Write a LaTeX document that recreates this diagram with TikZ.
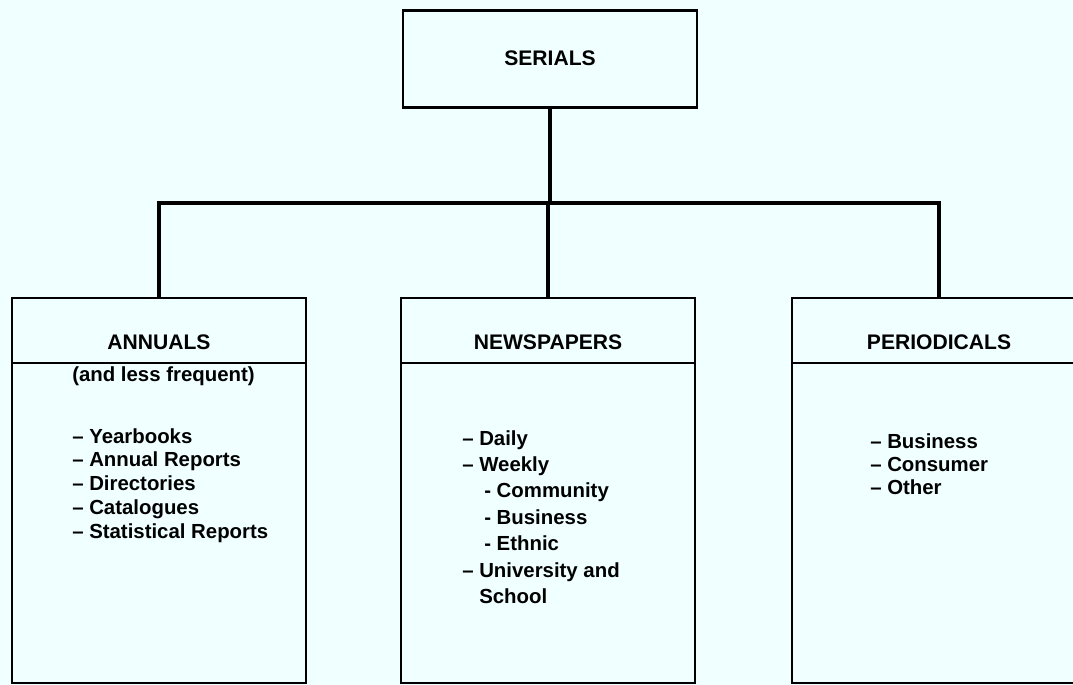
\documentclass[tikz,border=0pt]{standalone}
\usepackage{fontspec}
\setmainfont{Liberation Sans}
\usetikzlibrary{positioning}
\definecolor{paper}{RGB}{240,255,255}

\tikzset{
  head/.style={draw, line width=2.1pt, outer sep=0pt, minimum width=7.35cm, minimum height=1.625cm},
  body/.style={draw, line width=2.1pt, outer sep=0pt, minimum width=7.35cm, minimum height=8cm},
  title/.style={font=\fontsize{15}{18}\selectfont\bfseries},
  items/.style={font=\fontsize{14.5}{#1}\selectfont\bfseries, align=left, anchor=north west, inner sep=0pt},
  link/.style={line width=2.7pt}
}

\begin{document}
\begin{tikzpicture}
% background
\path[fill=paper, use as bounding box] (0,0) rectangle (26.825,17.125);
% top box
\node[head, title, minimum height=2.425cm] (serials) at (13.75,15.66) {SERIALS};
% boxes
\node[head] (annualsHead) at (3.975,8.8625) {};
\node[body, below=0pt of annualsHead] (annualsBody) {};
\node[head] (newsHead) at (13.7,8.8625) {};
\node[body, below=0pt of newsHead] (newsBody) {};
\node[head] (periodicalsHead) at (23.475,8.8625) {};
\node[body, below=0pt of periodicalsHead] (periodicalsBody) {};
% titles
\node[title] (annuals) at ([yshift=-0.29cm]annualsHead.center) {ANNUALS};
\node[title] (news) at ([yshift=-0.29cm]newsHead.center) {NEWSPAPERS};
\node[title] (periodicals) at ([yshift=-0.29cm]periodicalsHead.center) {PERIODICALS};
% lists
\node[items=17pt, anchor=west] (annualsNote) at (1.8,7.725) {(and less frequent)};
\node[items=17pt] (annualsList) at (1.8,6.425) {-- Yearbooks\\-- Annual Reports\\-- Directories\\-- Catalogues\\-- Statistical Reports};
\node[items=18.8pt] (newsList) at (11.55,6.375) {-- Daily\\-- Weekly\\\hspace*{0.55cm}- Community\\\hspace*{0.55cm}- Business\\\hspace*{0.55cm}- Ethnic\\-- University and\\\phantom{-- }School};
\node[items=16.4pt] (periodicalsList) at (21.75,6.28) {-- Business\\-- Consumer\\-- Other};
% connectors
\coordinate (bar) at (13.7,12.05);
\draw[link] (serials.south) -- (serials.south |- bar);
\draw[link] (annualsHead.north) |- (bar) -| (periodicalsHead.north);
\draw[link] (bar) -- (newsHead.north);
\end{tikzpicture}
\end{document}
